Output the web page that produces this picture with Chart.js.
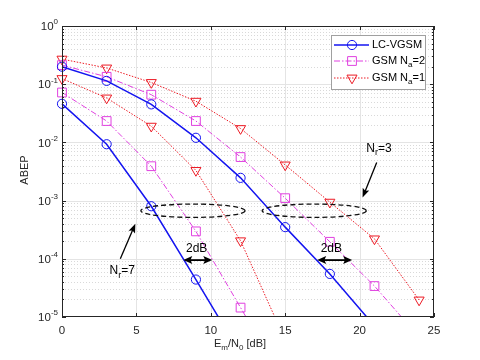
<!DOCTYPE html>
<html><head><meta charset="utf-8">
<script src="https://cdn.jsdelivr.net/npm/chart.js@4"></script>
<style>html,body{margin:0;padding:0;background:#fff}</style>
</head><body>
<canvas id="c" width="480" height="360"></canvas>
<script>
// ---- data ----
const snr = [0, 3, 6, 9, 12, 15, 18, 21, 24];
const yTicks = [1e-5, 1e-4, 1e-3, 1e-2, 1e-1, 1];
const xTicks = [0, 5, 10, 15, 20, 25];
// Nr = 3
const lcvgsmNr3 = [0.20, 0.114, 0.045, 0.012, 0.00246, 3.5e-4, 5.5e-5, 7e-6];
const gsm2Nr3   = [0.213, 0.134, 0.066, 0.0233, 0.0056, 0.0011, 1.96e-4, 3.4e-5, 4.5e-6];
const gsm1Nr3   = [0.27, 0.19, 0.107, 0.051, 0.0173, 0.0041, 9.4e-4, 2.2e-4, 1.96e-5];
// Nr = 7
const lcvgsmNr7 = [0.046, 0.0093, 8e-4, 4.4e-5, 2.3e-6];
const gsm2Nr7   = [0.072, 0.0233, 0.0039, 2.96e-4, 1.45e-5, 7e-7];
const gsm1Nr7   = [0.125, 0.058, 0.019, 0.0033, 2.04e-4, 4e-6];

const legendLabels = [
  [{t:'LC-VGSM'}],
  [{t:'GSM N'},{t:'a',sub:true},{t:'=2'}],
  [{t:'GSM N'},{t:'a',sub:true},{t:'=1'}]
];

const BLUE = '#1414f0', MAG = '#e040e0', RED = '#ec1a24';
const FONT = '"Liberation Sans", Arial, Helvetica, sans-serif';

function pts(arr){ return arr.map((v,i)=>({x:snr[i], y:v})); }

const styles = {
  lc: {borderColor:BLUE, pointBorderColor:BLUE, borderWidth:1.5, borderDash:[], pointStyle:'circle', pointRadius:4.6, pointRotation:0},
  g2: {borderColor:MAG, pointBorderColor:MAG, borderWidth:1, borderDash:[6,2,1.5,2], pointStyle:'rect', pointRadius:6.2, pointRotation:0},
  g1: {borderColor:RED, pointBorderColor:RED, borderWidth:1, borderDash:[1.5,1.5], pointStyle:'triangle', pointRadius:5.8, pointRotation:180}
};
function ds(arr, st){
  return Object.assign({data:pts(arr), backgroundColor:'rgba(0,0,0,0)', pointBackgroundColor:'rgba(0,0,0,0)',
    pointBorderWidth:1, fill:false, tension:0, clip:{left:10,right:10,top:10,bottom:0}}, styles[st]);
}

function partSize(p, size){ return p.sub||p.sup ? Math.round(size*0.72) : size; }
function richWidth(ctx, parts, size){
  let w=0;
  for(const p of parts){ ctx.font = partSize(p,size)+'px '+FONT; w+=ctx.measureText(p.t).width; }
  return w;
}
function drawRich(ctx, parts, x, y, size, align){
  const w = richWidth(ctx, parts, size);
  let cx = align==='center'? x-w/2 : (align==='right'? x-w : x);
  ctx.textBaseline='middle'; ctx.textAlign='left';
  for(const p of parts){
    ctx.font = partSize(p,size)+'px '+FONT;
    const dy = p.sub ? size*0.38 : (p.sup ? -size*0.42 : 0);
    ctx.fillText(p.t, cx, y+dy);
    cx += ctx.measureText(p.t).width;
  }
}
function arrowHead(ctx, x1,y1,x2,y2, len, wid){
  const a = Math.atan2(y2-y1, x2-x1);
  ctx.beginPath();
  ctx.moveTo(x2,y2);
  ctx.lineTo(x2 - len*Math.cos(a) + wid*Math.sin(a), y2 - len*Math.sin(a) - wid*Math.cos(a));
  ctx.lineTo(x2 - len*Math.cos(a)*0.8, y2 - len*Math.sin(a)*0.8);
  ctx.lineTo(x2 - len*Math.cos(a) - wid*Math.sin(a), y2 - len*Math.sin(a) + wid*Math.cos(a));
  ctx.closePath(); ctx.fill();
}

// annotation anchors in data units
const ellipses = [{cx:8.8, cy:6.7e-4, rx:3.5, ry:0.115}, {cx:16.95, cy:6.7e-4, rx:3.5, ry:0.115}];
const nrArrows = [
  {from:[3.92,1.0e-4], to:[4.93,4.0e-4], label:[{t:'N'},{t:'r',sub:true},{t:'=7'}], at:[4.05,6.2e-5]},
  {from:[21.15,4.5e-3], to:[20.2,1.13e-3], label:[{t:'N'},{t:'r',sub:true},{t:'=3'}], at:[21.3,7.9e-3]}
];
const dbArrows = [{x1:8.15, x2:10.1, y:9.5e-5, tx:9.05, ty:1.5e-4}, {x1:17.15, x2:19.5, y:9.5e-5, tx:18.1, ty:1.5e-4}];

const gridPlugin = {
  id:'matlabGrid',
  beforeDatasetsDraw(chart){
    const {ctx, chartArea:a, scales:{x,y}} = chart;
    ctx.save();
    ctx.lineWidth = 1;
    // minor y grid (dotted)
    ctx.strokeStyle = '#d9d9d9'; ctx.setLineDash([1,2]);
    for(let d=-5; d<0; d++) for(let m=2; m<=9; m++){
      const py = Math.round(y.getPixelForValue(m*Math.pow(10,d)))+0.5;
      ctx.beginPath(); ctx.moveTo(a.left, py); ctx.lineTo(a.right, py); ctx.stroke();
    }
    // major grid
    ctx.setLineDash([]); ctx.strokeStyle = '#e4e4e4';
    for(const v of xTicks.slice(1,-1)){
      const px = Math.round(x.getPixelForValue(v))+0.5;
      ctx.beginPath(); ctx.moveTo(px, a.top); ctx.lineTo(px, a.bottom); ctx.stroke();
    }
    for(const v of yTicks.slice(1,-1)){
      const py = Math.round(y.getPixelForValue(v))+0.5;
      ctx.beginPath(); ctx.moveTo(a.left, py); ctx.lineTo(a.right, py); ctx.stroke();
    }
    ctx.restore();
  },
  afterDatasetsDraw(chart){
    const {ctx, chartArea:a, scales:{x,y}} = chart;
    ctx.save();
    // axes box & ticks
    ctx.strokeStyle = '#262626'; ctx.lineWidth = 1; ctx.setLineDash([]);
    ctx.strokeRect(Math.round(a.left)+0.5, Math.round(a.top)+0.5, Math.round(a.right-a.left)-1, Math.round(a.bottom-a.top)-1);
    ctx.beginPath();
    for(const v of xTicks){
      const px = Math.round(x.getPixelForValue(v))+0.5;
      ctx.moveTo(px, a.bottom); ctx.lineTo(px, a.bottom-4);
      ctx.moveTo(px, a.top); ctx.lineTo(px, a.top+4);
    }
    for(const v of yTicks){
      const py = Math.round(y.getPixelForValue(v))+0.5;
      ctx.moveTo(a.left, py); ctx.lineTo(a.left+4, py);
      ctx.moveTo(a.right, py); ctx.lineTo(a.right-4, py);
    }
    for(let d=-5; d<0; d++) for(let m=2; m<=9; m++){
      const py = Math.round(y.getPixelForValue(m*Math.pow(10,d)))+0.5;
      ctx.moveTo(a.left, py); ctx.lineTo(a.left+2, py);
      ctx.moveTo(a.right, py); ctx.lineTo(a.right-2, py);
    }
    ctx.stroke();

    // y tick labels 10^n
    ctx.fillStyle = '#262626';
    for(const v of yTicks){
      const e = Math.round(Math.log10(v));
      drawRich(ctx, [{t:'10'},{t:String(e),sup:true}], a.left-4, y.getPixelForValue(v)+1, 11.5, 'right');
    }

    // ellipses
    ctx.strokeStyle = '#111'; ctx.lineWidth = 1.3; ctx.setLineDash([5,3]);
    for(const e of ellipses){
      const cx = x.getPixelForValue(e.cx), cy = y.getPixelForValue(e.cy);
      const rx = x.getPixelForValue(e.cx+e.rx) - cx;
      const ry = cy - y.getPixelForValue(e.cy*Math.pow(10,e.ry));
      ctx.beginPath(); ctx.ellipse(cx, cy, rx, ry, 0, 0, Math.PI*2); ctx.stroke();
    }
    ctx.setLineDash([]);
    // Nr arrows
    ctx.fillStyle = '#000'; ctx.strokeStyle = '#000'; ctx.lineWidth = 1.3;
    for(const n of nrArrows){
      const x1 = x.getPixelForValue(n.from[0]), y1 = y.getPixelForValue(n.from[1]);
      const x2 = x.getPixelForValue(n.to[0]), y2 = y.getPixelForValue(n.to[1]);
      const a2 = Math.atan2(y2-y1, x2-x1);
      ctx.beginPath(); ctx.moveTo(x1,y1); ctx.lineTo(x2-6*Math.cos(a2), y2-6*Math.sin(a2)); ctx.stroke();
      arrowHead(ctx, x1,y1,x2,y2, 9, 3.5);
      drawRich(ctx, n.label, x.getPixelForValue(n.at[0]), y.getPixelForValue(n.at[1]), 12, 'center');
    }
    // 2dB arrows
    ctx.lineWidth = 1.8;
    for(const d of dbArrows){
      const x1 = x.getPixelForValue(d.x1), x2 = x.getPixelForValue(d.x2), py = y.getPixelForValue(d.y);
      ctx.beginPath(); ctx.moveTo(x1+6, py); ctx.lineTo(x2-6, py); ctx.stroke();
      arrowHead(ctx, x2,py,x1,py, 9, 4);
      arrowHead(ctx, x1,py,x2,py, 9, 4);
      drawRich(ctx, [{t:'2dB'}], x.getPixelForValue(d.tx), y.getPixelForValue(d.ty), 12, 'center');
    }

    // legend
    const lx = a.right-103, ly = a.top+9, lw = 94, lh = 54;
    ctx.fillStyle = '#fff'; ctx.fillRect(lx, ly, lw, lh);
    ctx.strokeStyle = '#a0a0a0'; ctx.lineWidth = 1;
    ctx.strokeRect(Math.round(lx)+0.5, Math.round(ly)+0.5, lw, lh);
    const rows = [ly+10, ly+26, ly+43];
    const keys = ['lc','g2','g1'];
    keys.forEach((k,i)=>{
      const s = styles[k], ry = rows[i];
      ctx.strokeStyle = s.borderColor; ctx.lineWidth = s.borderWidth; ctx.setLineDash(s.borderDash);
      ctx.beginPath(); ctx.moveTo(lx+3, ry); ctx.lineTo(lx+38, ry); ctx.stroke();
      ctx.setLineDash([]);
      ctx.lineWidth = 1; ctx.strokeStyle = s.borderColor; ctx.fillStyle = 'rgba(0,0,0,0)';
      Chart.helpers.drawPoint(ctx, {pointStyle:s.pointStyle, radius:s.pointRadius, rotation:s.pointRotation, borderWidth:1}, lx+21, ry);
      ctx.fillStyle = '#000';
      drawRich(ctx, legendLabels[i], lx+41, ry, 11, 'left');
    });

    // axis titles
    ctx.fillStyle = '#262626';
    drawRich(ctx, [{t:'E'},{t:'m',sub:true},{t:'/N'},{t:'0',sub:true},{t:' [dB]'}], 240, 344, 11, 'center');
    ctx.save();
    ctx.translate(25, 170); ctx.rotate(-Math.PI/2);
    drawRich(ctx, [{t:'ABEP'}], 0, 0, 11, 'center');
    ctx.restore();
    ctx.restore();
  }
};

new Chart(document.getElementById('c'), {
  type:'line',
  data:{ datasets:[
    ds(lcvgsmNr3,'lc'), ds(gsm2Nr3,'g2'), ds(gsm1Nr3,'g1'),
    ds(lcvgsmNr7,'lc'), ds(gsm2Nr7,'g2'), ds(gsm1Nr7,'g1')
  ]},
  options:{
    responsive:false, animation:false, devicePixelRatio:1,
    layout:{padding:{top:26, right:46, left:0, bottom:0}},
    plugins:{legend:{display:false}, tooltip:{enabled:false}},
    scales:{
      x:{type:'linear', min:0, max:25,
        afterBuildTicks:s=>{ s.ticks = xTicks.map(v=>({value:v})); },
        ticks:{font:{family:FONT,size:11.5}, color:'#262626', padding:7, maxRotation:0},
        grid:{display:false, drawTicks:false}, border:{display:false},
        afterFit:s=>{ s.height = 43; }},
      y:{type:'logarithmic', min:1e-5, max:1,
        afterBuildTicks:s=>{ s.ticks = yTicks.map(v=>({value:v})); },
        ticks:{display:false},
        grid:{display:false, drawTicks:false}, border:{display:false},
        afterFit:s=>{ s.width = 62; }}
    }
  },
  plugins:[gridPlugin]
});
</script>
</body></html>
